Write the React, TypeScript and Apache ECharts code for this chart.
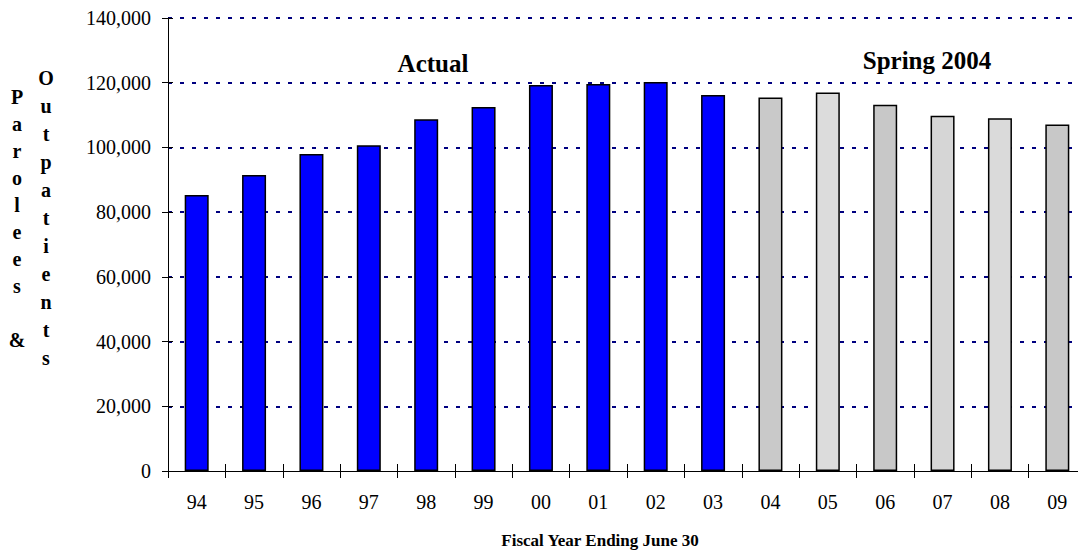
import React, { useEffect, useRef } from "react";
import * as echarts from "echarts";

const years = ["94", "95", "96", "97", "98", "99", "00", "01", "02", "03", "04", "05", "06", "07", "08", "09"];
const population = [85300, 91500, 98000, 100700, 108700, 112500, 119300, 119600, 120200, 116200, 115400, 117000, 113200, 109800, 109000, 107100];
const actualCount = 10;
const yTicks = [0, 20000, 40000, 60000, 80000, 100000, 120000, 140000];
const forecastFills = ["#c9c9c9", "#dcdcdc", "#c8c8c8", "#d6d6d6", "#dadada", "#c8c8c8"];

const FONT = "'Liberation Serif', 'Times New Roman', serif";

export default function App() {
  const ref = useRef<HTMLDivElement>(null);
  useEffect(() => {
    if (!ref.current) return;
    const chart = echarts.init(ref.current, undefined, { renderer: "svg" });
    const data = population.map((v, i) => ({
      value: v,
      itemStyle: {
        color: i < actualCount ? "#0000ff" : forecastFills[i - actualCount],
      },
    }));
    const yBase = {
      type: "value",
      min: yTicks[0],
      max: yTicks[yTicks.length - 1],
      interval: 20000,
    };
    chart.setOption({
      animation: false,
      grid: { left: 168, right: 14, top: 18, bottom: 83 },
      xAxis: [
        {
          type: "category",
          data: years,
          axisLine: { show: true, lineStyle: { color: "#000", width: 1 } },
          axisTick: { show: true, inside: false, length: 7, lineStyle: { color: "#000" } },
          axisLabel: { color: "#000", fontFamily: FONT, fontSize: 20, margin: 21 },
          splitLine: { show: false },
          z: 5,
        },
        {
          type: "category",
          data: years,
          position: "bottom",
          axisLine: { show: false },
          axisTick: { show: true, inside: true, length: 7, lineStyle: { color: "#000" } },
          axisLabel: { show: false },
          splitLine: { show: false },
        },
      ],
      yAxis: [
        {
          ...yBase,
          axisLine: { show: true, lineStyle: { color: "#000", width: 1 } },
          axisTick: { show: true, length: 6, lineStyle: { color: "#000" } },
          axisLabel: {
            color: "#000",
            fontFamily: FONT,
            fontSize: 20,
            margin: 17,
            formatter: (v: number) => v.toLocaleString("en-US"),
          },
          splitLine: {
            show: true,
            showMinLine: false,
            lineStyle: { color: "#000080", type: [4, 8], width: 2 },
          },
        },
        {
          ...yBase,
          position: "left",
          axisLine: { show: false },
          axisTick: { show: true, inside: true, length: 5, lineStyle: { color: "#000" } },
          axisLabel: { show: false },
          splitLine: { show: false },
        },
      ],
      series: [
        {
          type: "bar",
          data,
          barWidth: 24,
          itemStyle: { borderColor: "#000", borderWidth: 1.5 },
        },
      ],
      graphic: [
        {
          type: "text",
          x: 17,
          y: 83,
          style: {
            text: "P\na\nr\no\nl\ne\ne\ns\n\n&",
            font: `bold 20px ${FONT}`,
            fill: "#000",
            align: "center",
            verticalAlign: "top",
            lineHeight: 27,
          },
        },
        {
          type: "text",
          x: 46,
          y: 64,
          style: {
            text: "O\nu\nt\np\na\nt\ni\ne\nn\nt\ns",
            font: `bold 20px ${FONT}`,
            fill: "#000",
            align: "center",
            verticalAlign: "top",
            lineHeight: 28,
          },
        },
        {
          type: "text",
          x: 433,
          y: 63,
          style: {
            text: "Actual",
            font: `bold 25px ${FONT}`,
            fill: "#000",
            align: "center",
            verticalAlign: "middle",
          },
        },
        {
          type: "text",
          x: 927,
          y: 60,
          style: {
            text: "Spring 2004",
            font: `bold 25px ${FONT}`,
            fill: "#000",
            align: "center",
            verticalAlign: "middle",
          },
        },
        {
          type: "text",
          x: 600,
          y: 540,
          style: {
            text: "Fiscal Year Ending June 30",
            font: `bold 17px ${FONT}`,
            fill: "#000",
            align: "center",
            verticalAlign: "middle",
          },
        },
      ],
    });
    return () => chart.dispose();
  }, []);
  return (
    <div style={{ position: "fixed", left: 0, top: 0, width: 1078, height: 554, overflow: "hidden", background: "#fff" }}>
      <div ref={ref} style={{ width: 1100, height: 554 }} />
    </div>
  );
}
